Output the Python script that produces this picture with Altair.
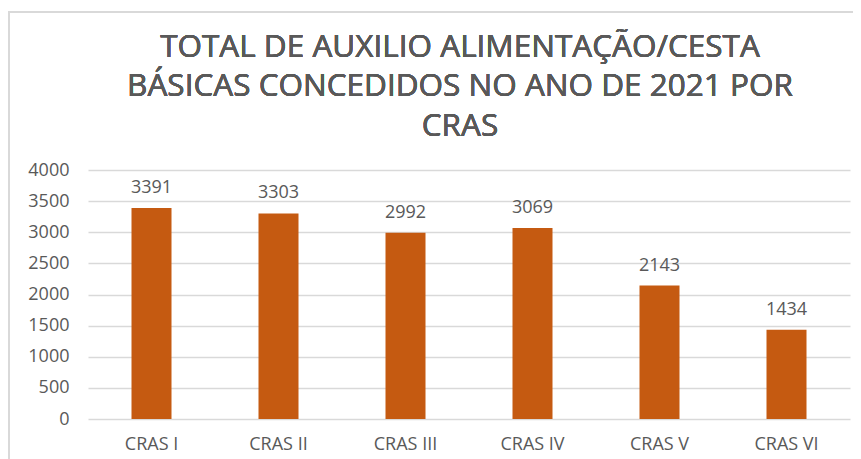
import altair as alt
import pandas as pd

categories = ["CRAS I", "CRAS II", "CRAS III", "CRAS IV", "CRAS V", "CRAS VI"]
values = [3391, 3303, 2992, 3069, 2143, 1434]
y_ticks = [0, 500, 1000, 1500, 2000, 2500, 3000, 3500, 4000]
title_lines = ["TOTAL DE AUXILIO ALIMENTAÇÃO/CESTA", "BÁSICAS CONCEDIDOS NO ANO DE 2021 POR", "CRAS"]

df = pd.DataFrame({"cras": categories, "total": values})

FONT = "Open Sans"
GRAY = "#595959"

x = alt.X("cras:N", sort=categories, title=None,
          scale=alt.Scale(paddingInner=0, paddingOuter=0),
          axis=alt.Axis(labelAngle=0, domain=False, ticks=False, labelPadding=16,
                        labelFont=FONT, labelFontSize=18, labelColor=GRAY))
y = alt.Y("total:Q", title=None,
          scale=alt.Scale(domain=[0, 4000], nice=False),
          axis=alt.Axis(values=y_ticks, format="d", labelOverlap=False, domain=False, ticks=False,
                        labelPadding=19, labelFont=FONT, labelFontSize=18, labelColor=GRAY,
                        gridColor="#d9d9d9", gridWidth=1.5))

bars = alt.Chart(df).mark_bar(size=40, color="#C55A11").encode(x=x, y=y)
labels = alt.Chart(df).mark_text(baseline="alphabetic", dy=-15, font=FONT, fontSize=18, color=GRAY).encode(
    x=x, y=y, text="total:Q")

frame_top = alt.Chart(df).mark_rule(color="#d9d9d9", strokeWidth=2).encode(
    x=alt.value(-80), x2=alt.value(780), y=alt.value(-158))
frame_left = alt.Chart(df).mark_rule(color="#d9d9d9", strokeWidth=2).encode(
    x=alt.value(-79), y=alt.value(-158), y2=alt.value(290))

title_y = [-113, -74, -34]
title_marks = [
    alt.Chart(df).mark_text(font=FONT, fontSize=31.5, color=GRAY, align="center",
                            baseline="alphabetic").encode(
        x=alt.value(372), y=alt.value(ty), text=alt.value(line))
    for line, ty in zip(title_lines, title_y)
]

chart = alt.layer(frame_top, frame_left, bars, labels, *title_marks).properties(
    width=762, height=249,
    autosize=alt.AutoSizeParams(type="none"),
    padding={"left": 80, "top": 162, "right": 3, "bottom": 40},
).configure_view(stroke=None)

chart.save("out.html", embed_options={"renderer": "svg", "actions": False})
